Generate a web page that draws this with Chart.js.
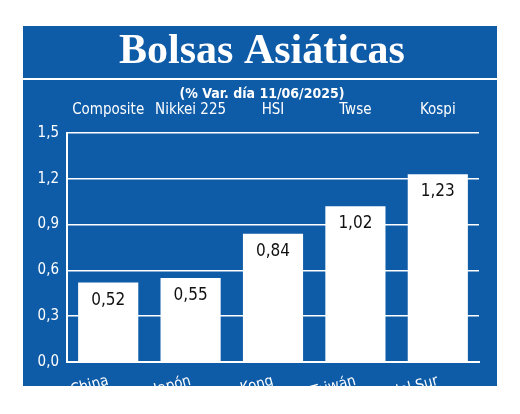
<!DOCTYPE html><html><head><meta charset="utf-8">
<script src="https://cdn.jsdelivr.net/npm/chart.js@4"></script>
<style>html,body{margin:0;padding:0;background:#fff}</style></head><body>
<canvas id="c" width="520" height="414" style="width:520px;height:414px"></canvas>
<script>
const countries=["China","Japón","Hong Kong","Taiwán","Corea del Sur"];
const indices=["Composite","Nikkei 225","HSI","Twse","Kospi"];
const values=[0.52,0.55,0.84,1.02,1.23];
const yTicks=[0,0.3,0.6,0.9,1.2,1.5];
const titleText="Bolsas Asiáticas";
const subtitleText="(% Var. día 11/06/2025)";
const BLUE="#0e5ba8";
const F="'Liberation Sans Narrow','DejaVu Sans Condensed',sans-serif";
const fmt=v=>v.toFixed(v===0?1:(Math.round(v*10)===v*10?1:2)).replace('.',',');
const deco={id:'deco',
 beforeDraw(ch){const c=ch.ctx;c.save();c.fillStyle='#fff';c.fillRect(0,0,520,414);
  c.fillStyle=BLUE;c.fillRect(23,26,474,360);
  c.fillStyle='#fff';c.fillRect(23,78,474,2);
  c.textAlign='center';c.textBaseline='middle';
  c.font="bold 42px 'Liberation Serif',"+F;c.fillText(titleText,262,52);
  c.font="bold 14px "+F;c.fillText(subtitleText,262,94);c.restore();},
 afterDatasetsDraw(ch){const c=ch.ctx,m=ch.getDatasetMeta(0);c.save();
  c.fillStyle='#111';c.font="17px "+F;c.textAlign='center';c.textBaseline='top';
  m.data.forEach((b,i)=>c.fillText(values[i].toFixed(2).replace('.',','),b.x,b.y+9));c.restore();}};
new Chart(document.getElementById('c'),{type:'bar',
 data:{labels:countries,datasets:[{data:values,backgroundColor:'#fff',barPercentage:0.73,categoryPercentage:1}]},
 options:{responsive:false,animation:false,devicePixelRatio:1,
  layout:{padding:{left:23,right:41,top:100,bottom:28}},
  plugins:{legend:{display:false},tooltip:{enabled:false}},
  scales:{
   x:{position:'bottom',grid:{display:false},border:{color:'#fff',width:2},
    ticks:{color:'#fff',font:{family:F,size:15},padding:2},afterFit(s){s.height=24;}},
   x2:{position:'top',type:'category',labels:indices,grid:{display:false},border:{display:false},
    ticks:{color:'#fff',font:{family:F,size:15},padding:6},afterFit(s){s.height=33;}},
   y:{min:0,max:1.5,grid:{color:'#fff',lineWidth:1.5,drawTicks:false},border:{color:'#fff',width:2},
    afterBuildTicks(s){s.ticks=yTicks.map(v=>({value:v}));},
    ticks:{color:'#fff',font:{family:F,size:15},padding:8,callback:v=>v.toFixed(1).replace('.',',')},
    afterFit(s){s.width=44;}}}},
 plugins:[deco]});
</script></body></html>
